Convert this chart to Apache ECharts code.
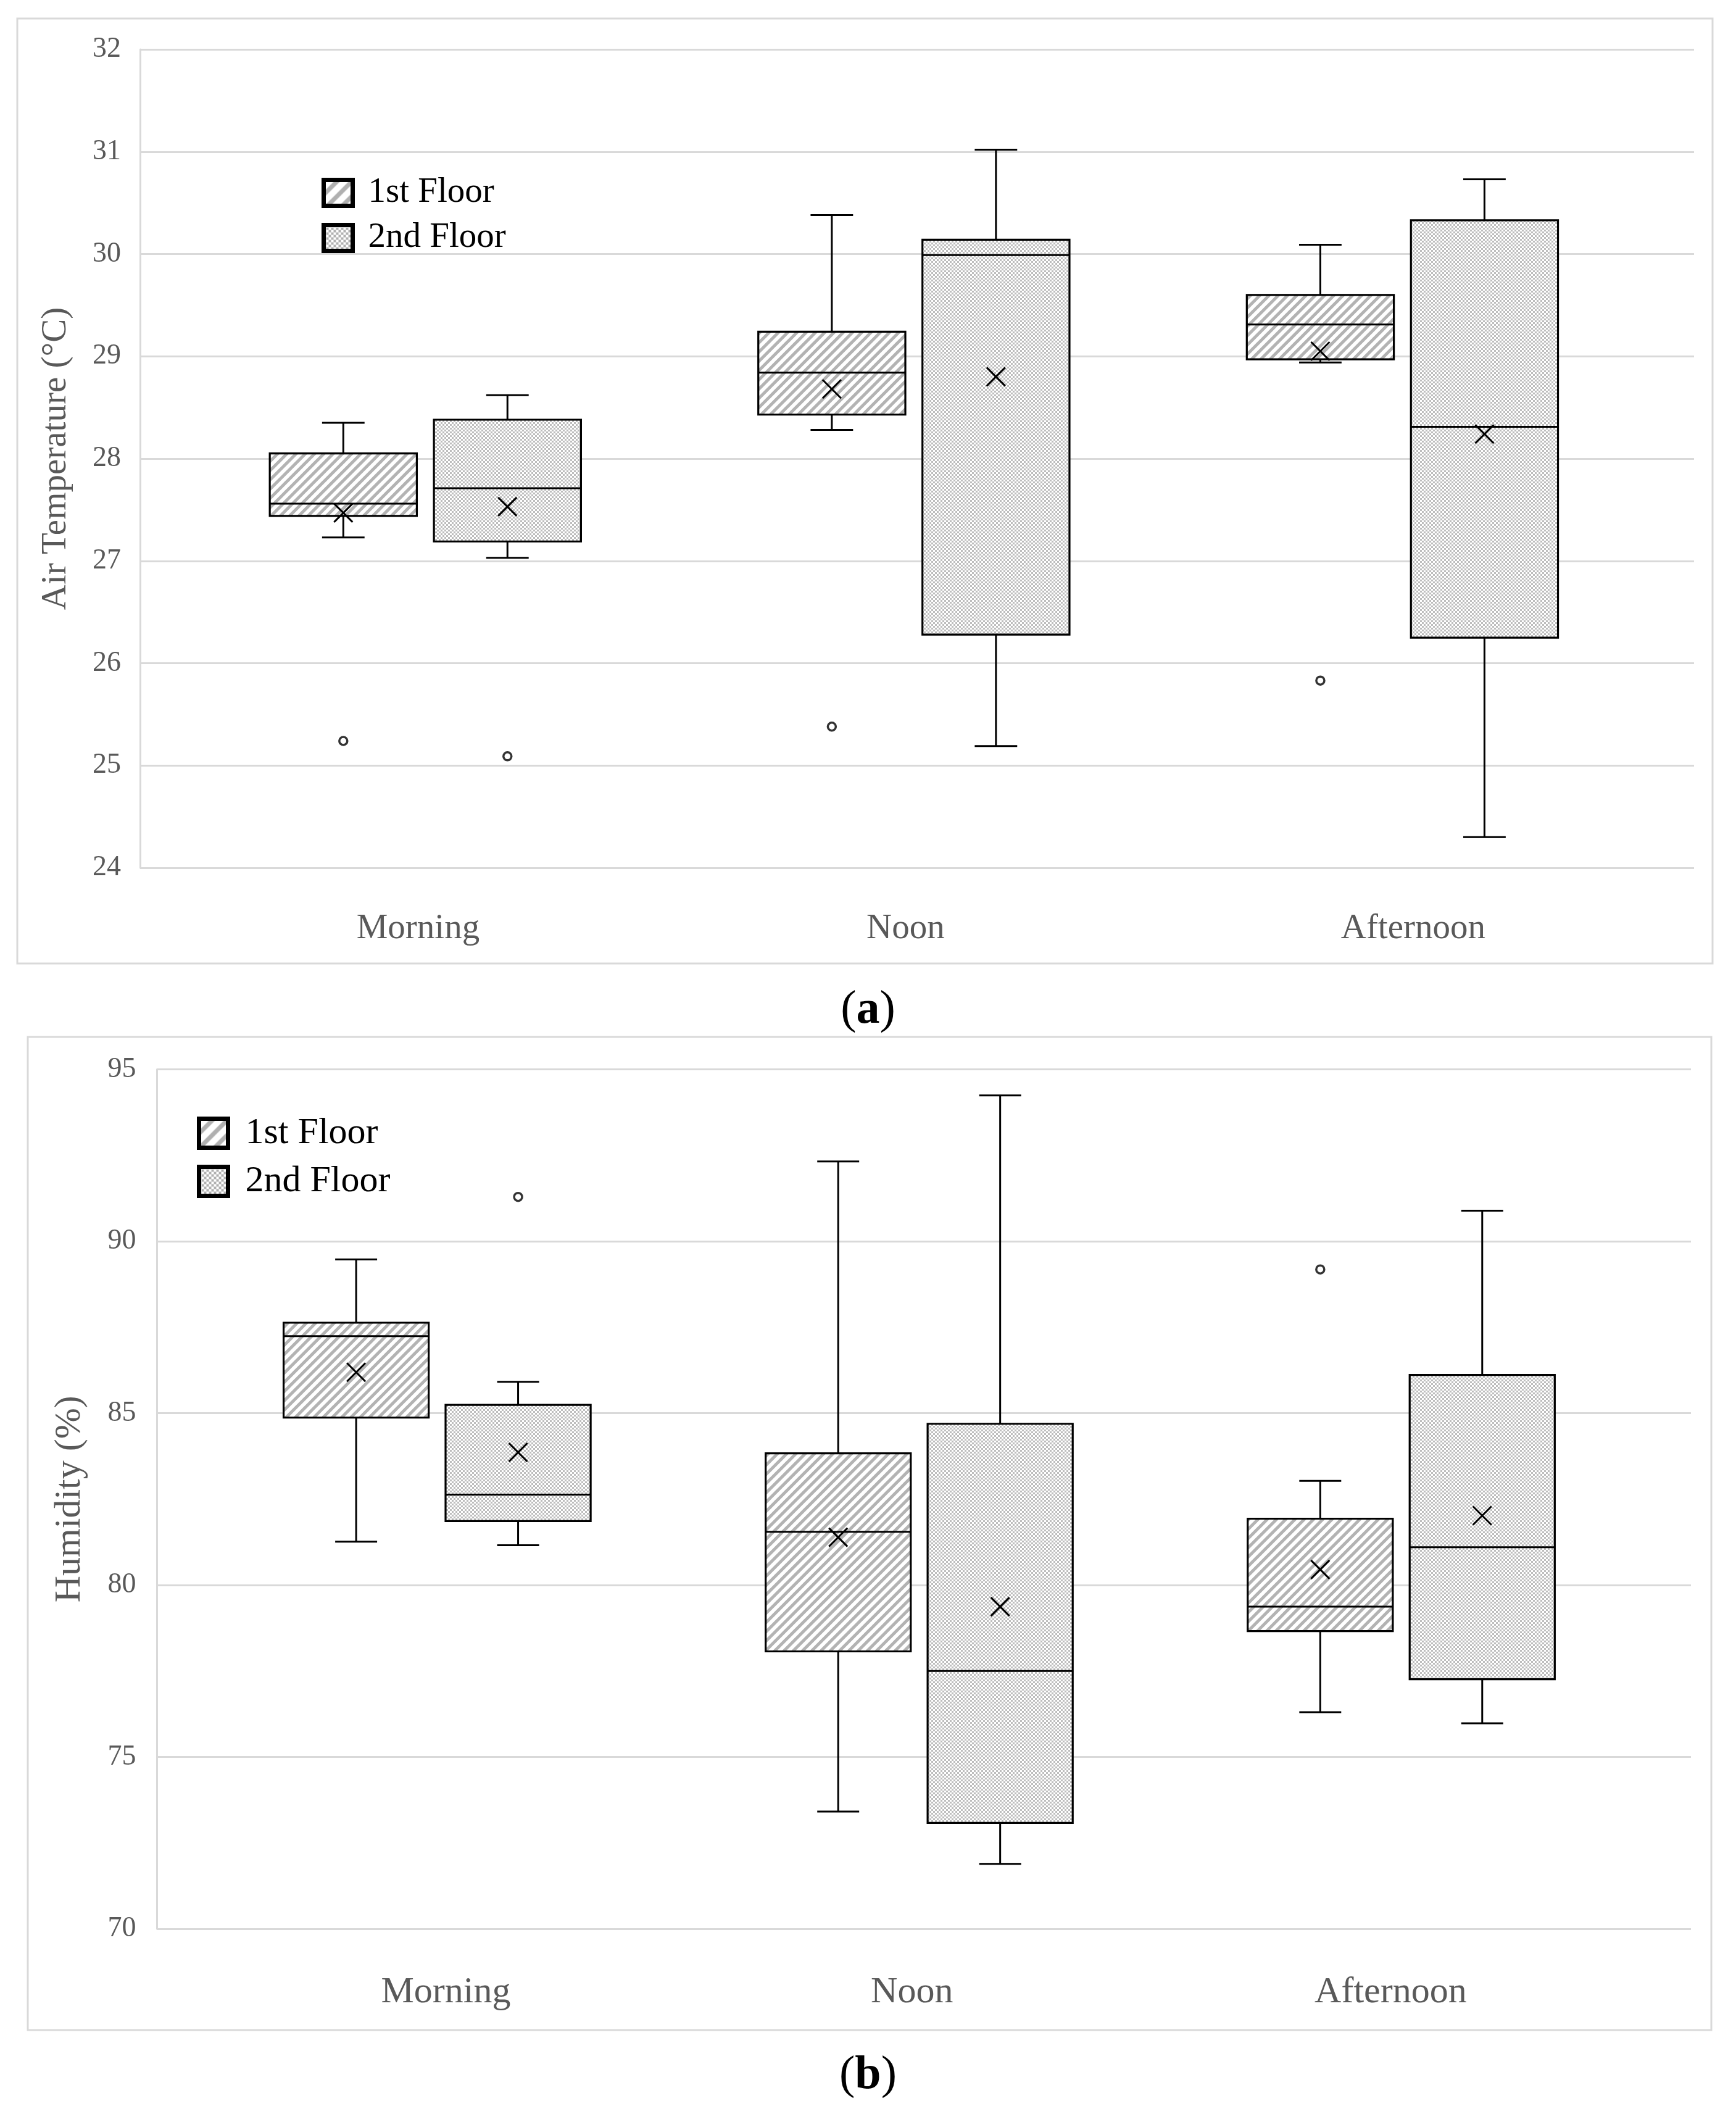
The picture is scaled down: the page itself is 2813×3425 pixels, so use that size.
<!DOCTYPE html>
<html><head><meta charset="utf-8">
<script src="https://cdn.jsdelivr.net/npm/echarts@6/dist/echarts.min.js"></script>
<style>html,body{margin:0;padding:0;background:#fff}#c{width:2813px;height:3425px}</style>
</head><body><div id="c"></div>
<script>
// ---------- data ----------
const categories = ['Morning', 'Noon', 'Afternoon'];
const seriesNames = ['1st Floor', '2nd Floor'];
// each row: [categoryIndex, min, q1, median, q3, max, mean]
const temp1st = [[0, 27.23, 27.44, 27.56, 28.05, 28.35, 27.47], [1, 28.28, 28.43, 28.84, 29.24, 30.38, 28.68], [2, 28.94, 28.97, 29.31, 29.60, 30.09, 29.05]];
const temp2nd = [[0, 27.03, 27.19, 27.71, 28.38, 28.62, 27.53], [1, 25.19, 26.28, 29.99, 30.14, 31.02, 28.80], [2, 24.30, 26.25, 28.31, 30.33, 30.73, 28.24]];
const tempOut1st = [[0, 25.24], [1, 25.38], [2, 25.83]];
const tempOut2nd = [[0, 25.09]];
const hum1st = [[0, 81.26, 84.87, 87.24, 87.63, 89.47, 86.19], [1, 73.41, 78.07, 81.55, 83.83, 92.32, 81.39], [2, 76.30, 78.66, 79.37, 81.93, 83.03, 80.45]];
const hum2nd = [[0, 81.16, 81.86, 82.63, 85.24, 85.91, 83.86], [1, 71.89, 73.08, 77.50, 84.69, 94.24, 79.37], [2, 75.98, 77.26, 81.10, 86.11, 90.89, 82.02]];
const humOut1st = [[2, 89.18]];
const humOut2nd = [[0, 91.29]];
const tempAxis = { min: 24, max: 32, interval: 1, name: 'Air Temperature (°C)' };
const humAxis = { min: 70, max: 95, interval: 5, name: 'Humidity (%)' };
// positions of the category labels on the x scale (category units)
const tempLabelPos = [-0.015, 0.983, 2.022];
const humLabelPos = [0.018, 0.985, 1.978];

// ---------- styles ----------
const FONT = "'Liberation Serif', 'Times New Roman', serif";
const GRID_COLOR = '#d9d9d9';
const TEXT_GRAY = '#595959';
const OFFSET = [-0.168, 0.168];
const BOX_W = 0.301, CAP_W = 0.087;

function makeHatch(size, lw, color) {
  const c = document.createElement('canvas'); c.width = c.height = size;
  const g = c.getContext('2d');
  g.fillStyle = '#fff'; g.fillRect(0, 0, size, size);
  g.strokeStyle = color; g.lineWidth = lw; g.beginPath();
  for (let k = -1; k <= 1; k++) { g.moveTo(k * size - 3, size + 3); g.lineTo(k * size + size + 3, -3); }
  g.stroke();
  return { image: c, repeat: 'repeat' };
}
function makeDots(cell, color) {
  const c = document.createElement('canvas'); c.width = c.height = cell * 2;
  const g = c.getContext('2d');
  g.fillStyle = '#fff'; g.fillRect(0, 0, cell * 2, cell * 2);
  g.fillStyle = color; g.fillRect(0, 0, cell, cell); g.fillRect(cell, cell, cell, cell);
  return { image: c, repeat: 'repeat' };
}
const fills = [makeHatch(15, 5, '#b3b3b3'), makeDots(3, '#bdbdbd')];
const legendFills = [makeHatch(24, 7, '#b0b0b0'), makeDots(4, '#b0b0b0')];

function boxRender(fIdx) {
  return function (params, api) {
    const x = api.value(0) + OFFSET[fIdx];
    const p = [1, 2, 3, 4, 5, 6].map(i => api.coord([x, api.value(i)]));
    const bw = api.size([BOX_W, 0])[0], cw = api.size([CAP_W, 0])[0];
    const cx = p[2][0];
    const ln = (x1, y1, x2, y2, w) => ({ type: 'line', shape: { x1, y1, x2, y2 }, style: { stroke: '#000', lineWidth: w || 3 } });
    const m = 15;
    return {
      type: 'group',
      children: [
        ln(cx, p[4][1], cx, p[3][1]),
        ln(cx, p[1][1], cx, p[0][1]),
        ln(cx - cw / 2, p[4][1], cx + cw / 2, p[4][1]),
        ln(cx - cw / 2, p[0][1], cx + cw / 2, p[0][1]),
        { type: 'rect', shape: { x: cx - bw / 2, y: p[3][1], width: bw, height: p[1][1] - p[3][1] }, style: { fill: fills[fIdx], stroke: '#000', lineWidth: 3.2 } },
        ln(cx - bw / 2, p[2][1], cx + bw / 2, p[2][1]),
        ln(cx - m, p[5][1] - m, cx + m, p[5][1] + m, 3),
        ln(cx - m, p[5][1] + m, cx + m, p[5][1] - m, 3)
      ]
    };
  };
}

function boxSeries(data, fIdx, gi) {
  return {
    type: 'custom', name: seriesNames[fIdx], xAxisIndex: gi, yAxisIndex: gi,
    renderItem: boxRender(fIdx), data: data, silent: true,
    encode: { x: 0, y: [1, 2, 3, 4, 5, 6] },
    itemStyle: { color: '#bbbbbb' }
  };
}
function outSeries(data, fIdx, gi) {
  return {
    type: 'scatter', xAxisIndex: gi, yAxisIndex: gi, silent: true,
    data: data.map(d => [d[0] + OFFSET[fIdx], d[1]]),
    symbol: 'circle', symbolSize: 13,
    itemStyle: { color: '#fff', borderColor: '#000', borderWidth: 3.5 }, z: 5
  };
}

function xAxisDef(gi, min, max, labelPos, fs, margin) {
  return {
    type: 'value', gridIndex: gi, min: min, max: max,
    axisLine: { show: false }, axisTick: { show: false }, splitLine: { show: false },
    axisLabel: {
      customValues: labelPos, formatter: v => categories[Math.round(v)] || '',
      fontFamily: FONT, fontSize: fs, color: TEXT_GRAY, margin: margin
    }
  };
}
function yAxisDef(gi, ax, nameSize, nameGap, labelMargin) {
  return {
    type: 'value', gridIndex: gi, min: ax.min, max: ax.max, interval: ax.interval,
    name: ax.name, nameLocation: 'middle', nameGap: nameGap,
    nameTextStyle: { fontFamily: FONT, fontSize: nameSize, color: TEXT_GRAY },
    axisLine: { show: true, onZero: false, lineStyle: { color: GRID_COLOR, width: 3 } },
    axisTick: { show: false },
    axisLabel: { fontFamily: FONT, fontSize: 46, color: TEXT_GRAY, margin: labelMargin },
    splitLine: { show: true, lineStyle: { color: GRID_COLOR, width: 3 } }
  };
}
function legendDef(left, top, w, h, fs, gap, pad) {
  return {
    orient: 'vertical', left: left, top: top, itemWidth: w, itemHeight: h, itemGap: gap,
    icon: 'rect', selectedMode: false,
    textStyle: { fontFamily: FONT, fontSize: fs, color: '#000', padding: [0, 0, 0, pad] },
    data: seriesNames.map((n, i) => ({ name: n, itemStyle: { color: legendFills[i], borderColor: '#000', borderWidth: 7 } }))
  };
}
function capTitle(letter, top) {
  return {
    text: '{p|(}{b|' + letter + '}{p|)}', left: 'center', top: top,
    textStyle: { fontWeight: 'normal', rich: {
      p: { fontFamily: FONT, fontSize: 76, fontWeight: 'normal', color: '#000' },
      b: { fontFamily: FONT, fontSize: 76, fontWeight: 'bold', color: '#000' }
    } }
  };
}

const option = {
  animation: false,
  backgroundColor: '#fff',
  textStyle: { fontFamily: FONT },
  title: [capTitle('a', 1594), capTitle('b', 3320)],
  graphic: [
    { type: 'rect', silent: true, z: -10, shape: { x: 28, y: 30, width: 2747, height: 1531 }, style: { fill: 'none', stroke: GRID_COLOR, lineWidth: 3 } },
    { type: 'rect', silent: true, z: -10, shape: { x: 45, y: 1680, width: 2728, height: 1609 }, style: { fill: 'none', stroke: GRID_COLOR, lineWidth: 3 } }
  ],
  legend: [
    legendDef(516, 279, 47, 42, 57, 16, 20),
    legendDef(314, 1801, 47, 47, 60, 18, 23)
  ],
  grid: [
    { left: 227, top: 80, width: 2518, height: 1326 },
    { left: 254.5, top: 1732.5, width: 2485.5, height: 1392.5 }
  ],
  xAxis: [xAxisDef(0, -0.584, 2.597, tempLabelPos, 57, 71), xAxisDef(1, -0.581, 2.601, humLabelPos, 60, 73)],
  yAxis: [yAxisDef(0, tempAxis, 57, 107, 31), yAxisDef(1, humAxis, 60, 111, 34)],
  series: [
    boxSeries(temp1st, 0, 0), boxSeries(temp2nd, 1, 0),
    outSeries(tempOut1st, 0, 0), outSeries(tempOut2nd, 1, 0),
    boxSeries(hum1st, 0, 1), boxSeries(hum2nd, 1, 1),
    outSeries(humOut1st, 0, 1), outSeries(humOut2nd, 1, 1)
  ]
};
const chart = echarts.init(document.getElementById('c'), null, { renderer: 'canvas', devicePixelRatio: 1 });
chart.setOption(option);
</script>
</body></html>
